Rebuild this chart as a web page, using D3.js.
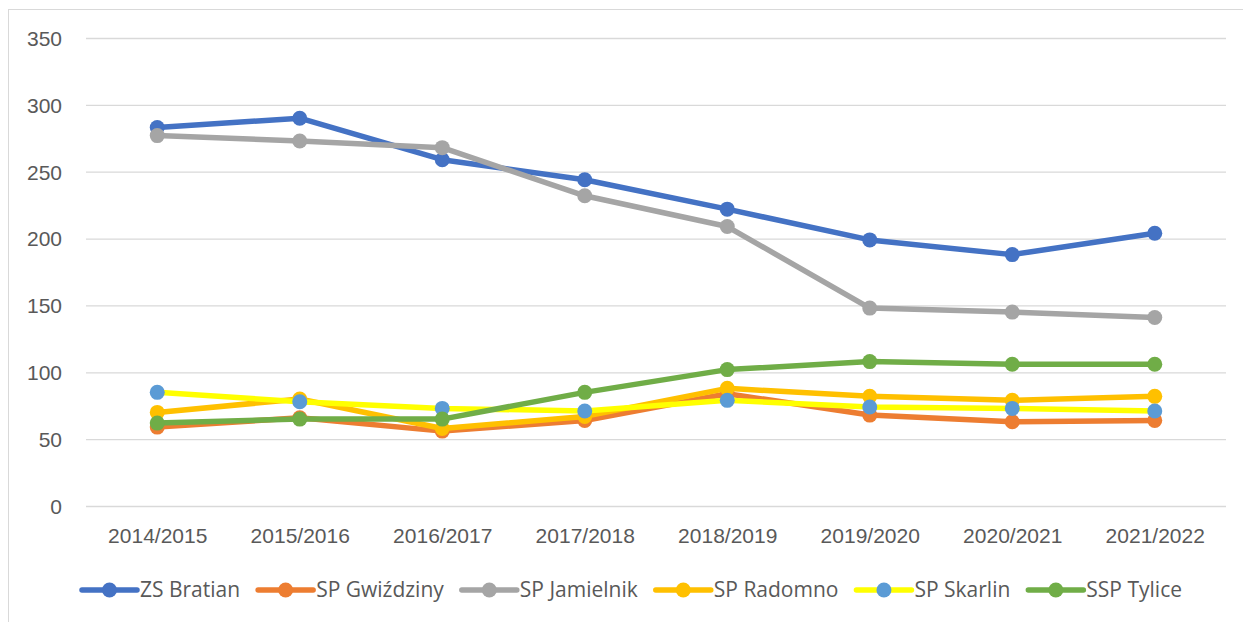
<!DOCTYPE html>
<html>
<head>
<meta charset="utf-8">
<script src="https://cdn.jsdelivr.net/npm/d3@7"></script>
<style>
  body { margin: 0; background: #fff; }
  svg { display: block; font-family: "Open Sans", "Noto Sans", sans-serif; }
  .tick text { fill: #595959; }
</style>
</head>
<body>
<div class="chart"></div>
<script>
// Data
const years = ['2014/2015', '2015/2016', '2016/2017', '2017/2018', '2018/2019', '2019/2020', '2020/2021', '2021/2022']
const schools = ['ZS Bratian', 'SP Gwiździny', 'SP Jamielnik', 'SP Radomno', 'SP Skarlin', 'SSP Tylice']
const bratian = [283, 290, 259, 244, 222, 199, 188, 204]
const gwizdziny = [59, 66, 56, 64, 84, 68, 63, 64]
const jamielnik = [277, 273, 268, 232, 209, 148, 145, 141]
const radomno = [70, 80, 58, 67, 88, 82, 79, 82]
const skarlin = [85, 78, 73, 71, 79, 74, 73, 71]
const tylice = [62, 65, 65, 85, 102, 108, 106, 106]
const yTicks = [0, 50, 100, 150, 200, 250, 300, 350]

const lineColors = ['#4472C4', '#ED7D31', '#A5A5A5', '#FFC000', '#FFFF00', '#70AD47']
const markerColors = ['#4472C4', '#ED7D31', '#A5A5A5', '#FFC000', '#5B9BD5', '#70AD47']
const series = [bratian, gwizdziny, jamielnik, radomno, skarlin, tylice]

// Dimensions
const width = 1243
const height = 622
const plot = { left: 86, right: 1226, top: 38, bottom: 506 }
const fontSize = 21

const svg = d3.select('.chart')
    .append('svg')
    .attr('width', width)
    .attr('height', height)

// chart border (runs off the right and bottom of the picture)
svg.append('rect')
    .attr('x', 8.5).attr('y', 9.5)
    .attr('width', 1300).attr('height', 700)
    .attr('fill', 'none')
    .attr('stroke', '#d9d9d9')

const xScale = d3.scalePoint()
    .domain(years)
    .range([plot.left, plot.right])
    .padding(0.5)

const yScale = d3.scaleLinear()
    .domain([0, 350])
    .range([plot.bottom, plot.top])

// gridlines + y labels
const yAxis = d3.axisLeft(yScale)
    .tickValues(yTicks)
    .tickSize(-(plot.right - plot.left))
    .tickPadding(24)

svg.append('g')
    .attr('transform', `translate(${plot.left},0)`)
    .call(yAxis)
    .call(g => g.select('.domain').remove())
    .call(g => g.selectAll('.tick line').attr('stroke', '#d9d9d9').attr('stroke-width', 1.3))
    .call(g => g.selectAll('.tick text').attr('font-size', fontSize).attr('dy', '0.35em'))

// x labels
const xAxis = d3.axisBottom(xScale).tickSize(0).tickPadding(22)
svg.append('g')
    .attr('transform', `translate(0,${plot.bottom})`)
    .call(xAxis)
    .call(g => g.select('.domain').remove())
    .call(g => g.selectAll('.tick text').attr('font-size', fontSize))

// lines + markers, series in order so later ones sit on top
const line = d3.line()
    .x((d, i) => xScale(years[i]))
    .y(d => yScale(d))

series.forEach((values, s) => {
    const g = svg.append('g')
    g.append('path')
        .datum(values)
        .attr('d', line)
        .attr('fill', 'none')
        .attr('stroke', lineColors[s])
        .attr('stroke-width', 5.5)
        .attr('stroke-linejoin', 'round')
        .attr('stroke-linecap', 'round')
    g.selectAll('circle')
        .data(values)
        .join('circle')
        .attr('cx', (d, i) => xScale(years[i]))
        .attr('cy', d => yScale(d))
        .attr('r', 7.5)
        .attr('fill', markerColors[s])
})

// Legend
const legend = svg.append('g')
const items = legend.selectAll('g')
    .data(schools)
    .join('g')

items.append('line')
    .attr('x1', 0).attr('x2', 55)
    .attr('y1', 0).attr('y2', 0)
    .attr('stroke', (d, i) => lineColors[i])
    .attr('stroke-width', 5.5)
    .attr('stroke-linecap', 'round')
items.append('circle')
    .attr('cx', 27.5).attr('cy', 0).attr('r', 7.5)
    .attr('fill', (d, i) => markerColors[i])
items.append('text')
    .attr('x', 58)
    .attr('dy', '0.35em')
    .attr('font-size', fontSize)
    .attr('fill', '#595959')
    .text(d => d)

let xPos = 0
const itemGap = 18
items.each(function() {
    const w = 58 + this.querySelector('text').getComputedTextLength()
    d3.select(this).attr('transform', `translate(${xPos},0)`)
    xPos += w + itemGap
})
const total = xPos - itemGap
legend.attr('transform', `translate(${632 - total / 2},590)`)
</script>
</body>
</html>
